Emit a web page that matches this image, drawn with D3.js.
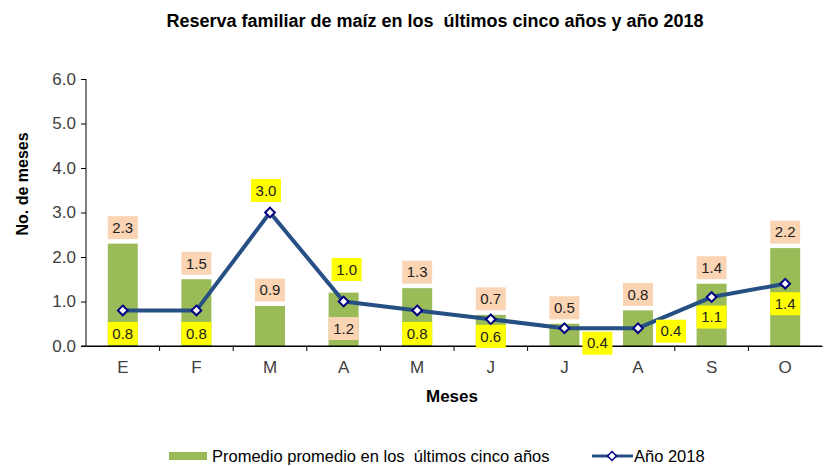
<!DOCTYPE html>
<html><head><meta charset="utf-8">
<script src="https://cdn.jsdelivr.net/npm/d3@7"></script>
<style>body{margin:0;background:#fff}svg{display:block;font-family:"Liberation Sans",Arial,sans-serif}</style>
</head><body><svg id="c" width="825" height="466"></svg>
<script>
const categories = ["E","F","M","A","M","J","J","A","S","O"];
const promedio = [2.3,1.5,0.9,1.2,1.3,0.7,0.5,0.8,1.4,2.2];
const anio2018 = [0.8,0.8,3.0,1.0,0.8,0.6,0.4,0.4,1.1,1.4];
const yTicks = [0,1,2,3,4,5,6];
// label placement (offsets from the mark, in px)
const barLabelPlace = ["above","above","above","base","above","above","above","above","above","above"];
const lineLabelOffset = [[0,23],[0,23],[-4,-22],[3,-32],[0,23],[0,17],[33,15],[33,3],[0,20],[0,20]];

const svg = d3.select("#c");
const L=86, R=822, T=79, B=346;
const x = d3.scaleBand().domain(d3.range(categories.length)).range([L,R]);
const y = d3.scaleLinear().domain([0,6]).range([B,T]);
const bw = 30;

// bars
svg.selectAll("rect.bar").data(promedio).join("rect")
  .attr("x",(d,i)=>x(i)+x.bandwidth()/2-bw/2).attr("width",bw)
  .attr("y",d=>y(d)).attr("height",d=>B-y(d)).attr("fill","#9BBB59");

// axes
const yAxis = svg.append("g").attr("transform",`translate(${L},0)`)
  .call(d3.axisLeft(y).tickValues(yTicks).tickFormat(d3.format(".1f")).tickSizeOuter(0).tickSize(5).tickPadding(5));
const xAxis = svg.append("g").attr("transform",`translate(0,${B})`)
  .call(d3.axisBottom(x).tickFormat(i=>categories[i]).tickSize(0).tickPadding(15));
xAxis.selectAll(".tick line").remove();
// x tick marks between categories
svg.append("g").selectAll("line").data(d3.range(1,categories.length)).join("line")
  .attr("x1",i=>x(i)).attr("x2",i=>x(i)).attr("y1",B).attr("y2",B+5).attr("stroke","#000");
[yAxis,xAxis].forEach(a=>{a.select(".domain").attr("stroke","#000");a.selectAll(".tick line").attr("stroke","#000");
  a.selectAll("text").attr("font-size",17).attr("fill","#404040").attr("font-family","'Liberation Sans',Arial,sans-serif");});
yAxis.select(".domain").attr("d",`M0,${T}V${B}`);
svg.append("line").attr("x1",L-5).attr("x2",R).attr("y1",B).attr("y2",B).attr("stroke","#000");

// line
const cx = i=>x(i)+x.bandwidth()/2;
svg.append("path").datum(anio2018).attr("fill","none").attr("stroke","#264F84").attr("stroke-width",4)
  .attr("stroke-linejoin","round")
  .attr("d",d3.line().x((d,i)=>cx(i)).y(d=>y(d)));
svg.selectAll("path.mk").data(anio2018).join("path")
  .attr("d",d3.symbol(d3.symbolDiamond2,60)).attr("transform",(d,i)=>`translate(${cx(i)},${y(d)})`)
  .attr("fill","#fff").attr("stroke","#000080").attr("stroke-width",2);

// labels
function lab(g,cxv,cyv,text,fill){
  g.append("rect").attr("x",cxv-15).attr("y",cyv-11.5).attr("width",30).attr("height",23).attr("fill",fill);
  g.append("text").attr("x",cxv).attr("y",cyv).attr("dy","0.35em").attr("text-anchor","middle")
   .attr("font-size",15).attr("fill","#222").text(text);
}
const lg = svg.append("g");
promedio.forEach((d,i)=>{
  const cy = barLabelPlace[i]==="base" ? B-17.5 : y(d)-16;
  lab(lg,cx(i),cy,d3.format(".1f")(d),"#FBD4B4");
});
anio2018.forEach((d,i)=>{
  lab(lg,cx(i)+lineLabelOffset[i][0],y(d)+lineLabelOffset[i][1],d3.format(".1f")(d),"#FFFF00");
});

// titles
svg.append("text").attr("x",435).attr("y",27).attr("text-anchor","middle").attr("font-weight","bold")
  .attr("font-size",18).attr("fill","#000").style("white-space","pre").text("Reserva familiar de maíz en los  últimos cinco años y año 2018");
svg.append("text").attr("transform","translate(28,184) rotate(-90)").attr("text-anchor","middle")
  .attr("font-weight","bold").attr("font-size",16).text("No. de meses");
svg.append("text").attr("x",452).attr("y",402).attr("text-anchor","middle").attr("font-weight","bold")
  .attr("font-size",17).text("Meses");

// legend
svg.append("rect").attr("x",169).attr("y",452).attr("width",38).attr("height",8).attr("fill","#9BBB59");
svg.append("text").attr("x",212).attr("y",456).attr("dy","0.35em").attr("font-size",16.5).attr("fill","#000")
  .style("white-space","pre").text("Promedio promedio en los  últimos cinco años");
svg.append("line").attr("x1",592).attr("x2",633).attr("y1",456).attr("y2",456).attr("stroke","#264F84").attr("stroke-width",3);
svg.append("path").attr("d",d3.symbol(d3.symbolDiamond2,50)).attr("transform","translate(612,456)")
  .attr("fill","#fff").attr("stroke","#000080").attr("stroke-width",1.5);
svg.append("text").attr("x",634).attr("y",456).attr("dy","0.35em").attr("font-size",16.5).attr("fill","#000").text("Año 2018");
</script></body></html>
